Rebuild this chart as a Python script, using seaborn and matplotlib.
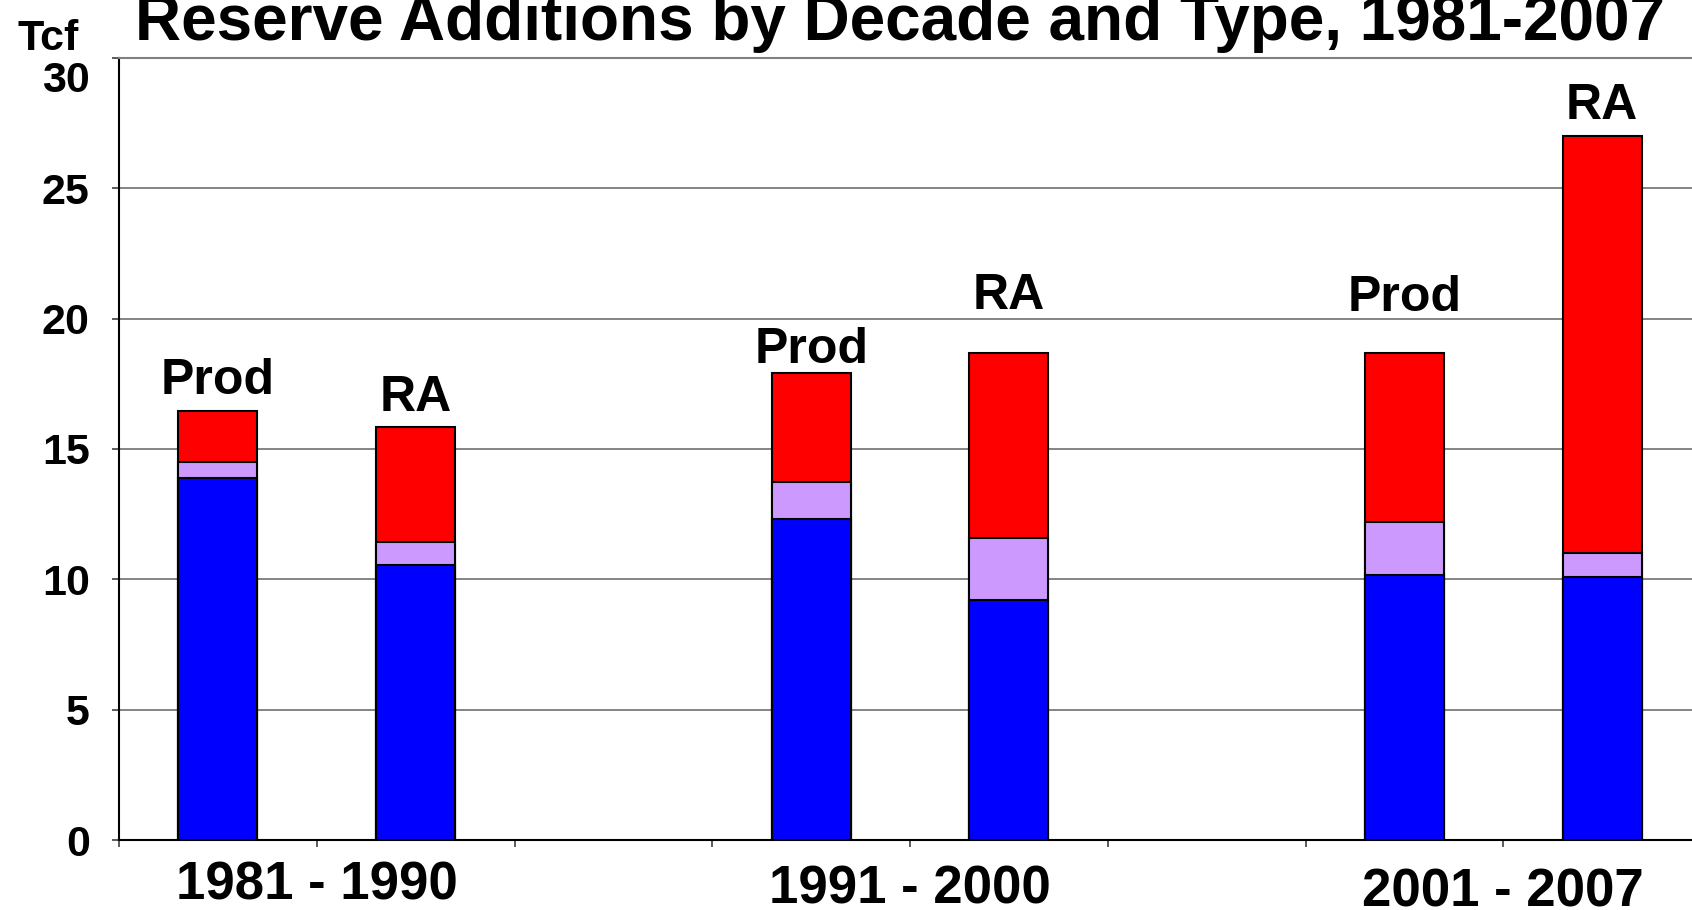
import numpy as np
import pandas as pd
import matplotlib
matplotlib.use('Agg')
import matplotlib.pyplot as plt
import matplotlib.transforms as mtransforms
import seaborn as sns

sns.set_style('white')
plt.rcParams['font.family'] = ['Liberation Sans', 'DejaVu Sans']
plt.rcParams['font.weight'] = 'bold'
plt.rcParams['text.color'] = 'black'
plt.rcParams['xtick.labelcolor'] = 'black'
plt.rcParams['ytick.labelcolor'] = 'black'

# data (Tcf), one bar per decade and type
decades = ['1981 - 1990', '1991 - 2000', '2001 - 2007']
bar_types = ['Prod', 'RA']
blue_part = [13.9, 10.55, 12.3, 9.2, 10.15, 10.1]
lilac_part = [0.6, 0.9, 1.45, 2.4, 2.05, 0.9]
red_part = [1.95, 4.4, 4.15, 7.1, 6.5, 16.0]

# slots: two bars per decade with an empty slot between decades
slot_order = []
bar_slots = []
for i, dec in enumerate(decades):
    for t in bar_types:
        slot_order.append(dec + ' ' + t)
        bar_slots.append(dec + ' ' + t)
    if i < len(decades) - 1:
        slot_order.append('gap %d' % i)

df = pd.DataFrame({
    'slot': bar_slots,
    'type': [t for d in decades for t in bar_types],
    'blue': blue_part,
    'lilac': lilac_part,
    'red': red_part,
})
df['mid'] = df['blue'] + df['lilac']
df['total'] = df['mid'] + df['red']

fig = plt.figure(figsize=(16.92, 9.10), dpi=100)
ax = fig.add_axes([119 / 1692, 70 / 910, (1701 - 119) / 1692, (840 - 58) / 910])

# stacked bars: draw totals first, then cover with lower parts
for col, color in [('total', '#FF0000'), ('mid', '#CC99FF'), ('blue', '#0000FF')]:
    sns.barplot(data=df, x='slot', y=col, order=slot_order, color=color,
                saturation=1, width=0.4, edgecolor='black', linewidth=1.5,
                errorbar=None, ax=ax, zorder=3)

ax.set_xlim(-0.5, len(slot_order) - 0.5)
ax.set_ylim(0, 30)
ax.set_yticks(np.arange(0, 31, 5))
ax.set_yticklabels([str(v) for v in range(0, 31, 5)], fontsize=31, fontweight='bold')
ax.set_xticks(np.arange(-0.5, len(slot_order) - 0.5, 1))
ax.set_xticklabels([])
ax.set_xlabel('')
ax.set_ylabel('')
ax.tick_params(axis='y', length=5, width=1.2, color='#404040', pad=16, left=True)
ax.tick_params(axis='x', length=5, width=1.2, color='#404040', bottom=True)

# the top label sits a little lower than its tick, as in the original
top_label = ax.get_yticklabels()[-1]
top_label.set_transform(top_label.get_transform() +
                        mtransforms.ScaledTranslation(0, -19 / 100, fig.dpi_scale_trans))

ax.yaxis.grid(True, color='#707070', linewidth=1.2)
ax.set_axisbelow(True)
for side in ['left', 'bottom']:
    ax.spines[side].set_color('black')
    ax.spines[side].set_linewidth(1.5)
ax.spines['top'].set_color('#808080')
ax.spines['top'].set_linewidth(1.5)
ax.spines['right'].set_visible(False)

# Prod / RA labels above each bar (hand-placed in the original, so gaps vary)
label_gap = [12.2, 11.5, 7.2, 31, 30.2, 12.2]
for i, row in df.iterrows():
    x = slot_order.index(row['slot'])
    ax.annotate(row['type'], (x, row['total']), xytext=(0, label_gap[i]), textcoords='offset points',
                ha='center', va='baseline', fontsize=36, fontweight='bold', annotation_clip=False)

# decade labels centred under each pair
label_drop = [43, 45.5, 48]
for i, dec in enumerate(decades):
    x = slot_order.index(dec + ' Prod') + 0.5
    ax.annotate(dec, (x, 0), xytext=(0, -label_drop[i]), textcoords='offset points',
                ha='center', va='baseline', fontsize=38, fontweight='bold', annotation_clip=False)

fig.text(900 / 1692, 1 - 40 / 910, 'Reserve Additions by Decade and Type, 1981-2007',
         ha='center', va='baseline', fontsize=46, fontweight='bold')
fig.text(17 / 1692, 1 - 50 / 910, 'Tcf', ha='left', va='baseline', fontsize=31, fontweight='bold')

fig.savefig('out.png', dpi=100)
